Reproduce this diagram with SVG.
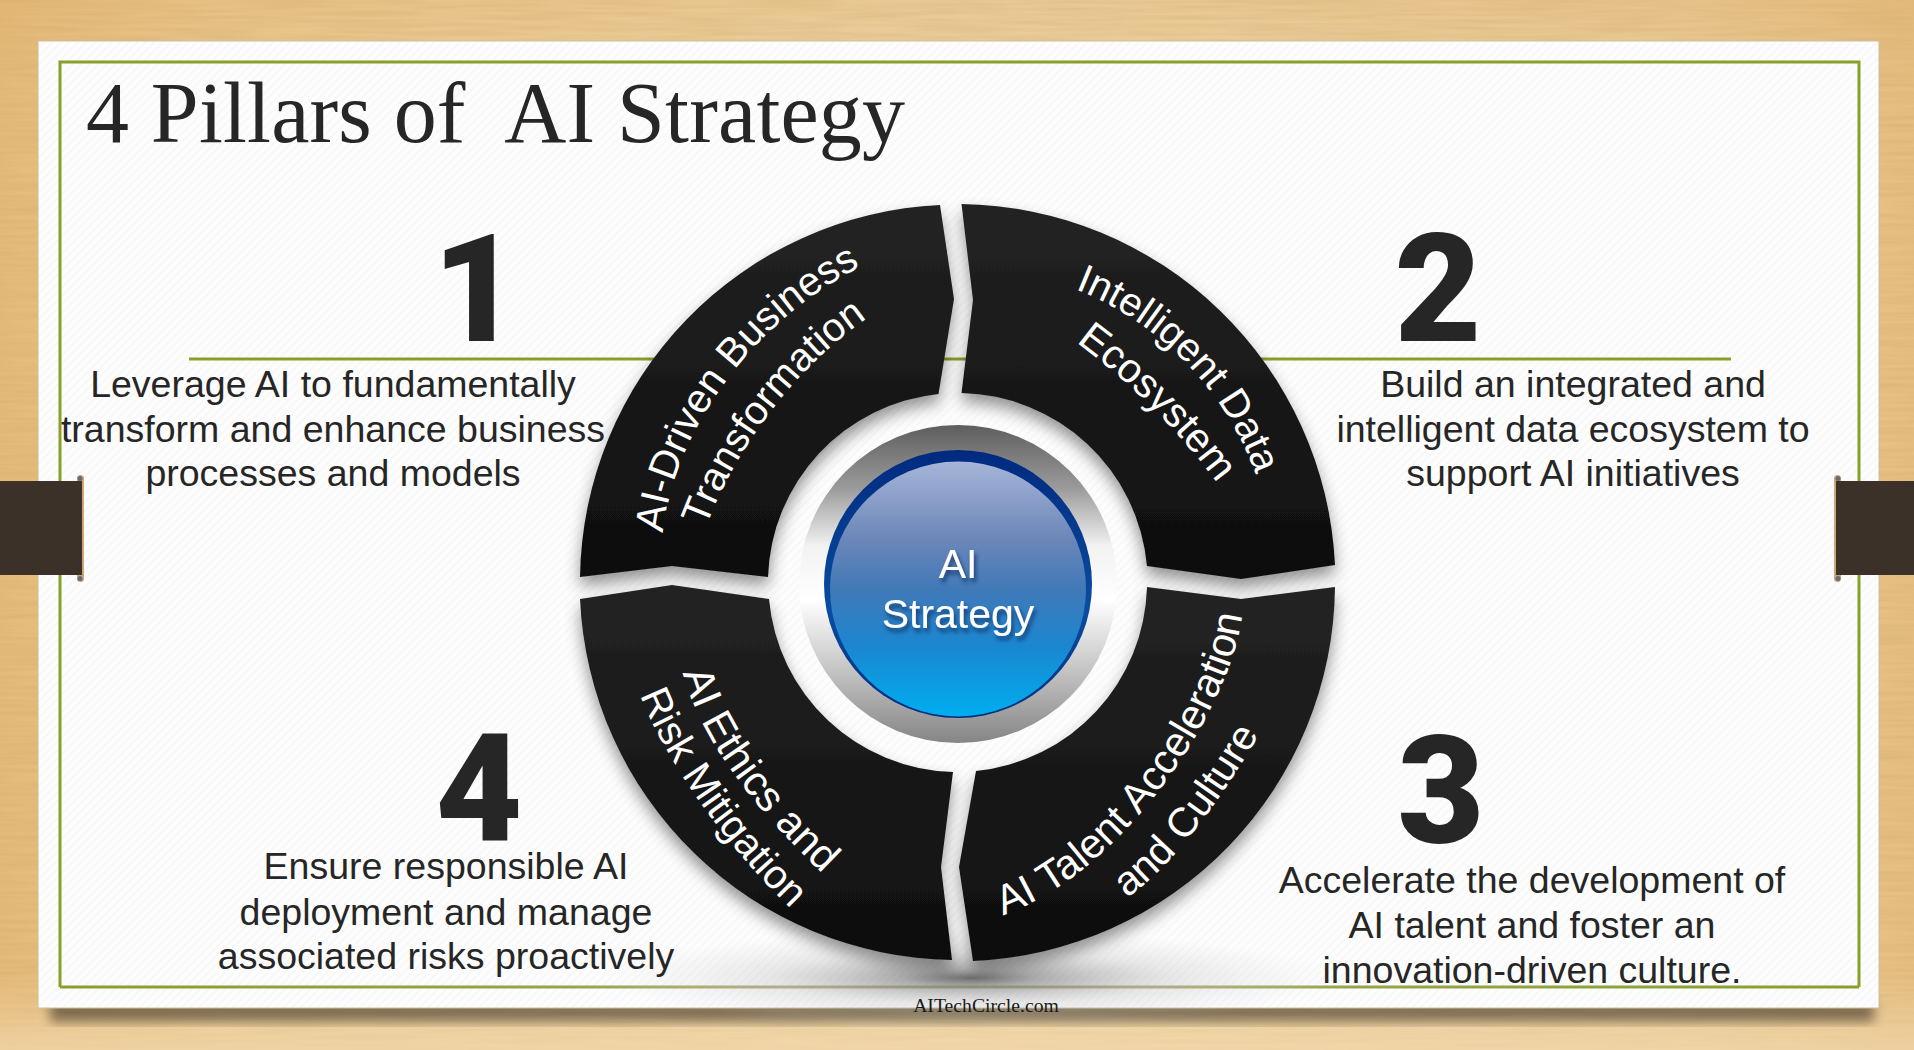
<svg xmlns="http://www.w3.org/2000/svg" width="1914" height="1050" viewBox="0 0 1914 1050">
<defs>
<style>
.body{font-family:"Liberation Sans",Arial,sans-serif;font-size:37.5px;fill:#262626;text-anchor:middle}
.num{font-family:Roboto,"Liberation Sans",Arial,sans-serif;font-size:150px;font-weight:900;fill:#262626;text-anchor:middle}
.seg{font-family:"Liberation Sans",Arial,sans-serif;fill:#fff}
.hub{font-family:"Liberation Sans",Arial,sans-serif;font-size:41px;fill:#fff;text-anchor:middle}
.frame{stroke:#87a02c;stroke-width:3;fill:none}
.band{fill:#3b3129}
.rod{fill:#c8a877}
.rodend{fill:#6b6a70}
</style>
<linearGradient id="wood" x1="0" y1="0" x2="1" y2="0">
<stop offset="0" stop-color="#e6bb7a"/><stop offset=".12" stop-color="#eac78f"/><stop offset=".5" stop-color="#edd2a2"/><stop offset=".88" stop-color="#eaca96"/><stop offset="1" stop-color="#e6be82"/>
</linearGradient>
<linearGradient id="woodv" x1="0" y1="0" x2="0" y2="1">
<stop offset="0" stop-color="#dba860" stop-opacity=".2"/><stop offset=".1" stop-color="#e0b878" stop-opacity="0"/><stop offset=".93" stop-color="#f3d9ae" stop-opacity="0"/><stop offset="1" stop-color="#f3d9ae" stop-opacity=".7"/>
</linearGradient>
<filter id="grain" x="0" y="0" width="1" height="1">
<feTurbulence type="fractalNoise" baseFrequency=".012 .25" numOctaves="3" seed="4"/>
<feColorMatrix values="0 0 0 0 .55  0 0 0 0 .36  0 0 0 0 .12  .45 0 0 0 -.12"/>
</filter>
<pattern id="hatch" width="6" height="6" patternUnits="userSpaceOnUse" patternTransform="rotate(-45)">
<rect width="6" height="6" fill="#fdfdfd"/><rect width="6" height="2" fill="#f8f8f8"/>
</pattern>
<linearGradient id="segfill" x1="0" y1="0" x2="0" y2="1">
<stop offset="0" stop-color="#232323"/><stop offset="1" stop-color="#0e0e0e"/>
</linearGradient>
<linearGradient id="ring" gradientUnits="userSpaceOnUse" x1="0" y1="425" x2="0" y2="743">
<stop offset="0" stop-color="#5e5e5e"/><stop offset=".2" stop-color="#9b9b9b"/><stop offset=".38" stop-color="#f2f2f2"/><stop offset=".55" stop-color="#ffffff"/><stop offset=".72" stop-color="#d2d2d2"/><stop offset="1" stop-color="#858585"/>
</linearGradient>
<linearGradient id="navy" x1="0" y1="0" x2="0" y2="1">
<stop offset="0" stop-color="#002a7f"/><stop offset=".6" stop-color="#0a4da0"/><stop offset="1" stop-color="#002c80"/>
</linearGradient>
<linearGradient id="blue" x1="0" y1="0" x2="0" y2="1">
<stop offset="0" stop-color="#a6b5d8"/><stop offset=".3" stop-color="#6d87b9"/><stop offset=".5" stop-color="#4179b8"/><stop offset=".72" stop-color="#1b86d0"/><stop offset="1" stop-color="#00aeef"/>
</linearGradient>
<linearGradient id="bottomline" gradientUnits="userSpaceOnUse" x1="60" y1="0" x2="1860" y2="0">
<stop offset="0" stop-color="#87a02c"/><stop offset=".28" stop-color="#95a448"/><stop offset=".4" stop-color="#b5ae80"/><stop offset=".6" stop-color="#b5ae80"/><stop offset=".72" stop-color="#95a448"/><stop offset="1" stop-color="#87a02c"/>
</linearGradient>
<radialGradient id="floor" cx=".5" cy=".5" r=".5">
<stop offset="0" stop-color="#555" stop-opacity=".85"/><stop offset=".18" stop-color="#777" stop-opacity=".6"/><stop offset=".55" stop-color="#aaa" stop-opacity=".25"/><stop offset="1" stop-color="#ccc" stop-opacity="0"/>
</radialGradient>
<filter id="segshadow" x="-15%" y="-15%" width="130%" height="130%">
<feDropShadow dx="0" dy="9" stdDeviation="8" flood-color="#000" flood-opacity=".42"/>
</filter>
<filter id="blur8" x="-5%" y="-20%" width="110%" height="140%"><feGaussianBlur stdDeviation="6"/></filter>
<filter id="hubshadow" x="-20%" y="-20%" width="140%" height="140%">
<feDropShadow dx="2" dy="4" stdDeviation="2" flood-color="#0a2a60" flood-opacity=".8"/>
</filter>
<path id="p1a" d="M663,533 C672,440 745,325 862,266"/>
<path id="p1b" d="M706,527 C733,455 790,370 872,315"/>
<path id="p2a" d="M1075,289 A316,316 0 0 1 1255,472"/>
<path id="p2b" d="M1076,342 Q1157,402 1217,483"/>
<path id="p3a" d="M1003,915 C1090,885 1170,790 1210,710 C1232,665 1240,640 1244,600"/>
<path id="p3b" d="M1127,898 Q1189,854 1262,730"/>
<path id="p4a" d="M683,673 C700,735 745,800 826,877"/>
<path id="p4b" d="M640,695 C665,760 725,845 790,908"/>
</defs>

<g id="background">
<rect width="1914" height="1050" fill="url(#wood)"/>
<rect width="1914" height="1050" filter="url(#grain)"/>
<rect width="1914" height="1050" fill="url(#woodv)"/>
<rect x="50" y="1000" width="1824" height="22" fill="#000" opacity=".45" filter="url(#blur8)"/>
<rect x="38" y="41" width="1841" height="967" fill="url(#hatch)" stroke="#cbbf9f" stroke-width="1"/>
</g>

<g id="frame">
<path class="frame" d="M60,987 L60,62 L1859,62 L1859,987"/>
<line x1="60" y1="987" x2="1859" y2="987" stroke="url(#bottomline)" stroke-width="3"/>
<ellipse cx="970" cy="978" rx="370" ry="48" fill="url(#floor)"/>
</g>

<g id="clips">
<rect class="band" x="0" y="481" width="84" height="94"/>
<rect class="rod" x="77" y="475" width="7" height="107" rx="3.5"/>
<rect class="band" x="76" y="481" width="6" height="94"/>
<circle class="rodend" cx="80" cy="478.5" r="2.5"/><circle class="rodend" cx="80" cy="578.5" r="2.5"/>
<rect class="band" x="1836" y="481" width="78" height="94"/>
<rect class="rod" x="1834" y="475" width="7" height="107" rx="3.5"/>
<rect class="band" x="1836" y="481" width="6" height="94"/>
<circle class="rodend" cx="1838" cy="478.5" r="2.5"/><circle class="rodend" cx="1838" cy="578.5" r="2.5"/>
</g>

<text id="title" x="86" y="142" font-family="'Liberation Serif','Times New Roman',serif" font-size="86" fill="#262626" style="white-space:pre" textLength="819" lengthAdjust="spacing">4 Pillars of  AI Strategy</text>

<g id="connectors">
<line x1="189" y1="359" x2="1731" y2="359" stroke="#87a02c" stroke-width="3"/>
</g>

<g id="pillar1-text">
<text class="num" x="476" y="341">1</text>
<text class="body"><tspan x="333" y="397">Leverage AI to fundamentally</tspan><tspan x="333" y="442">transform and enhance business</tspan><tspan x="333" y="486">processes and models</tspan></text>
</g>
<g id="pillar2-text">
<text class="num" x="1438" y="341">2</text>
<text class="body"><tspan x="1573" y="397">Build an integrated and</tspan><tspan x="1573" y="442">intelligent data ecosystem to</tspan><tspan x="1573" y="486">support AI initiatives</tspan></text>
</g>
<g id="pillar3-text">
<text class="num" x="1441" y="843">3</text>
<text class="body"><tspan x="1532" y="893">Accelerate the development of</tspan><tspan x="1532" y="938">AI talent and foster an</tspan><tspan x="1532" y="983">innovation-driven culture.</tspan></text>
</g>
<g id="pillar4-text">
<text class="num" x="479" y="841">4</text>
<text class="body"><tspan x="446" y="879">Ensure responsible AI</tspan><tspan x="446" y="925">deployment and manage</tspan><tspan x="446" y="969">associated risks proactively</tspan></text>
</g>

<g id="segment1">
<path d="M580,577 A378,378 0 0 1 940,205 L954,299 L938.5,394 A190,190 0 0 0 768,577 L672,566 Z" fill="url(#segfill)" filter="url(#segshadow)"/>
<text class="seg" font-size="40.5"><textPath href="#p1a">AI-Driven Business</textPath></text>
<text class="seg" font-size="40"><textPath href="#p1b">Transformation</textPath></text>
</g>
<g id="segment2">
<path d="M961.5,204 A379,379 0 0 1 1335,565 L1241,579 L1147,566 A190,190 0 0 0 961.5,393 L973,300 Z" fill="url(#segfill)" filter="url(#segshadow)"/>
<text class="seg" font-size="40"><textPath href="#p2a">Intelligent Data</textPath></text>
<text class="seg" font-size="41"><textPath href="#p2b">Ecosystem</textPath></text>
</g>
<g id="segment3">
<path d="M1147,587 L1241,599 L1335,587 A378,378 0 0 1 973,961 L959,867 L976,771 A190,190 0 0 0 1147,587 Z" fill="url(#segfill)" filter="url(#segshadow)"/>
<text class="seg" font-size="41.5"><textPath href="#p3a">AI Talent Acceleration</textPath></text>
<text class="seg" font-size="41"><textPath href="#p3b">and Culture</textPath></text>
</g>
<g id="segment4">
<path d="M580,599 L672,585 L769,599 A190,190 0 0 0 953,772 L941,867 L952,960 A378,378 0 0 1 580,599 Z" fill="url(#segfill)" filter="url(#segshadow)"/>
<text class="seg" font-size="42"><textPath href="#p4a">AI Ethics and</textPath></text>
<text class="seg" font-size="40.5"><textPath href="#p4b">Risk Mitigation</textPath></text>
</g>

<g id="hub">
<circle cx="958" cy="584" r="159" fill="url(#ring)"/>
<circle cx="958" cy="584" r="134" fill="url(#navy)"/>
<ellipse cx="958" cy="589" rx="128" ry="127.5" fill="url(#blue)"/>
<text class="hub" filter="url(#hubshadow)"><tspan x="958" y="578">AI</tspan><tspan x="958" y="628">Strategy</tspan></text>
</g>

<text id="credit" x="986" y="1012" font-family="'Liberation Serif','Times New Roman',serif" font-size="19.7" fill="#1a1a1a" text-anchor="middle">AITechCircle.com</text>
</svg>
